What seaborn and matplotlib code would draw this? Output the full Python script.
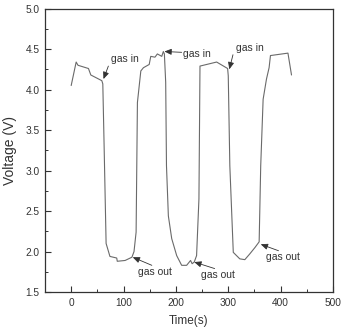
import matplotlib
matplotlib.use("Agg")
import matplotlib.pyplot as plt
from matplotlib.ticker import MultipleLocator
import seaborn as sns
import pandas as pd

# Data
time_s = [0, 9.5, 13, 33, 37.5, 58.5, 60.4, 63, 66.7, 74, 87, 88, 103, 116, 120,
          124, 126.5, 133, 138, 149, 152, 160, 164.6, 173, 176, 178,
          180.5, 182, 185.6, 192, 201.5, 211, 220.5, 228, 231, 235, 239.5,
          244, 246, 277.8, 298.8,
          300, 303, 309.6, 322, 331.6, 341, 351, 359,
          362, 366.6, 373, 378, 380.6, 414, 420.8]
voltage = [4.05, 4.34, 4.30, 4.26, 4.18, 4.11, 4.07, 3.27, 2.10, 1.94, 1.92, 1.88, 1.89, 1.93, 2.00,
           2.24, 3.84, 4.23, 4.27, 4.31, 4.41, 4.40, 4.44, 4.41, 4.47, 4.44,
           4.09, 3.06, 2.44, 2.16, 1.95, 1.83, 1.83, 1.89, 1.85, 1.87, 1.95,
           2.65, 4.29, 4.34, 4.26,
           4.17, 3.06, 1.99, 1.91, 1.90, 1.97, 2.05, 2.12,
           3.06, 3.88, 4.13, 4.27, 4.42, 4.45, 4.18]

ann_labels = ["gas in", "gas in", "gas in", "gas out", "gas out", "gas out"]
ann_head_t = [61.7, 178, 302, 117.5, 235, 362]
ann_head_v = [4.13, 4.47, 4.25, 1.93, 1.87, 2.09]
ann_text_t = [76, 213, 315, 128, 247, 372]
ann_text_v = [4.38, 4.44, 4.51, 1.75, 1.71, 1.93]
ann_tail_t = [71, 211, 309, 154, 274, 396]
ann_tail_v = [4.29, 4.46, 4.43, 1.83, 1.79, 2.01]

x_ticks = [0, 100, 200, 300, 400, 500]
y_ticks = [1.5, 2.0, 2.5, 3.0, 3.5, 4.0, 4.5, 5.0]

sns.set_theme(style="ticks")
plt.rcParams['font.family'] = ['Liberation Sans', 'DejaVu Sans']

fig = plt.figure(figsize=(3.42, 3.30), dpi=100)
ax = fig.add_axes([0.1316, 0.115, 0.842, 0.859])

df = pd.DataFrame({"t": time_s, "v": voltage})
sns.lineplot(data=df, x="t", y="v", sort=False, estimator=None, ax=ax,
             color="#6a6a6a", linewidth=0.8)

for lab, ht, hv, tt, tv, at, av in zip(ann_labels, ann_head_t, ann_head_v,
                                       ann_text_t, ann_text_v, ann_tail_t, ann_tail_v):
    ax.annotate("", xy=(ht, hv), xytext=(at, av),
                arrowprops=dict(arrowstyle="-|>,head_length=0.35,head_width=0.15",
                                color="#333333", lw=0.6, shrinkA=0, shrinkB=0))
    ax.text(tt, tv, lab, fontsize=7.5, color="#333333", ha="left", va="center")

ax.set_xlim(-50, 500)
ax.set_ylim(1.5, 5.0)
ax.set_xticks(x_ticks)
ax.set_yticks(y_ticks)
ax.set_yticklabels([f"{v:.1f}" for v in y_ticks])
ax.xaxis.set_minor_locator(MultipleLocator(50))
ax.yaxis.set_minor_locator(MultipleLocator(0.25))
ax.tick_params(which="major", direction="in", length=4, width=0.8, labelsize=7.3,
               colors="#333333", pad=4)
ax.tick_params(which="minor", direction="in", length=2, width=0.7, colors="#333333")
for s in ax.spines.values():
    s.set_visible(True)
    s.set_linewidth(0.9)
    s.set_color("#333333")

ax.set_xlabel("Time(s)", fontsize=8.5, color="#333333", labelpad=5)
ax.set_ylabel("Voltage (V)", fontsize=10, color="#333333", labelpad=6)

fig.savefig("out.png", dpi=100)
